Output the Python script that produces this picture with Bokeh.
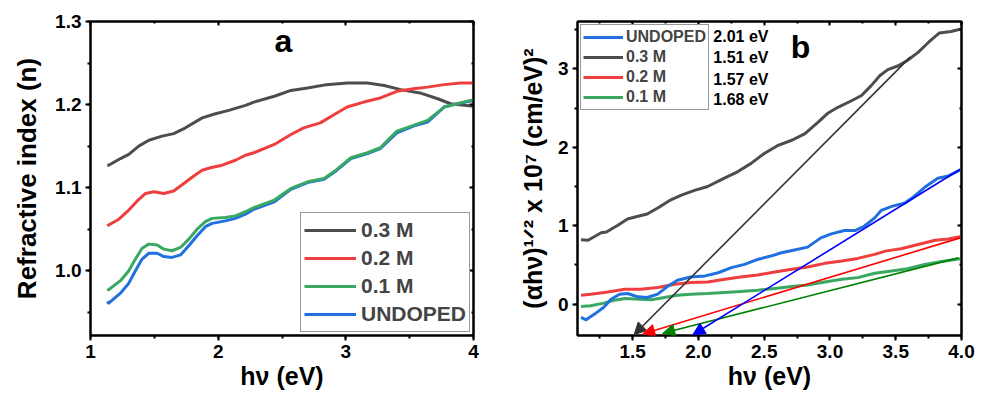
from bokeh.plotting import figure
from bokeh.layouts import row
from bokeh.models import (LinearAxis, SingleIntervalTicker, PrintfTickFormatter, CustomJSTickFormatter,
                          Legend, LegendItem, Arrow, NormalHead, Range1d)
from bokeh.core.properties import value
from bokeh.embed import file_html
from bokeh.resources import INLINE

FONT = "Liberation Sans"

# ---------------- Panel a: refractive index ----------------
a_x_03 = [1.131, 1.142, 1.235, 1.30, 1.378, 1.457, 1.561, 1.652, 1.744, 1.875, 1.979, 2.083, 2.214, 2.28, 2.44, 2.57, 2.70, 2.85, 3.01, 3.17, 3.30, 3.43, 3.58, 3.72, 3.82, 4.0]
a_y_03 = [1.127, 1.127, 1.135, 1.140, 1.150, 1.157, 1.162, 1.165, 1.172, 1.184, 1.189, 1.193, 1.199, 1.203, 1.210, 1.217, 1.220, 1.224, 1.226, 1.226, 1.223, 1.218, 1.214, 1.207, 1.201, 1.198]

a_x_02 = [1.131, 1.142, 1.222, 1.30, 1.366, 1.431, 1.496, 1.574, 1.652, 1.731, 1.809, 1.875, 1.94, 2.031, 2.135, 2.214, 2.28, 2.44, 2.57, 2.67, 2.80, 2.91, 3.01, 3.14, 3.27, 3.40, 3.53, 3.64, 3.77, 3.90, 4.0]
a_y_02 = [1.054, 1.055, 1.062, 1.073, 1.084, 1.093, 1.095, 1.093, 1.096, 1.105, 1.114, 1.121, 1.124, 1.127, 1.133, 1.139, 1.142, 1.152, 1.164, 1.172, 1.178, 1.188, 1.197, 1.203, 1.208, 1.216, 1.219, 1.221, 1.224, 1.226, 1.226]

a_x_01 = [1.131, 1.142, 1.235, 1.30, 1.352, 1.404, 1.457, 1.522, 1.574, 1.639, 1.705, 1.770, 1.835, 1.90, 1.953, 2.057, 2.135, 2.214, 2.28, 2.44, 2.57, 2.70, 2.83, 2.93, 3.04, 3.17, 3.27, 3.40, 3.53, 3.64, 3.77, 3.90, 4.0]
a_y_01 = [0.978, 0.977, 0.988, 1.000, 1.014, 1.027, 1.032, 1.031, 1.026, 1.024, 1.028, 1.038, 1.050, 1.059, 1.063, 1.064, 1.066, 1.071, 1.076, 1.085, 1.099, 1.107, 1.111, 1.122, 1.136, 1.142, 1.148, 1.168, 1.175, 1.181, 1.197, 1.202, 1.206]

a_x_un = [1.131, 1.142, 1.235, 1.30, 1.352, 1.404, 1.457, 1.522, 1.574, 1.639, 1.705, 1.770, 1.835, 1.90, 1.953, 2.057, 2.135, 2.214, 2.28, 2.44, 2.57, 2.70, 2.83, 2.93, 3.04, 3.17, 3.27, 3.40, 3.53, 3.64, 3.77, 3.90, 4.0]
a_y_un = [0.963, 0.961, 0.973, 0.985, 1.000, 1.014, 1.021, 1.021, 1.017, 1.016, 1.019, 1.030, 1.042, 1.053, 1.057, 1.060, 1.063, 1.068, 1.074, 1.083, 1.098, 1.106, 1.110, 1.121, 1.135, 1.141, 1.147, 1.166, 1.174, 1.179, 1.197, 1.202, 1.205]

# ---------------- Panel b: Tauc plot ----------------
b_x_03 = [1.107, 1.16, 1.26, 1.30, 1.39, 1.46, 1.54, 1.61, 1.69, 1.79, 1.87, 1.97, 2.07, 2.17, 2.30, 2.40, 2.50, 2.60, 2.71, 2.81, 2.91, 2.98, 3.06, 3.16, 3.24, 3.31, 3.38, 3.44, 3.52, 3.59, 3.67, 3.75, 3.83, 3.92, 3.99]
b_y_03 = [0.82, 0.815, 0.91, 0.92, 1.01, 1.086, 1.12, 1.15, 1.225, 1.33, 1.39, 1.45, 1.50, 1.585, 1.69, 1.795, 1.92, 2.02, 2.09, 2.175, 2.32, 2.43, 2.51, 2.59, 2.66, 2.78, 2.915, 2.99, 3.04, 3.11, 3.21, 3.34, 3.456, 3.477, 3.506]

b_x_un = [1.107, 1.145, 1.21, 1.28, 1.335, 1.40, 1.46, 1.54, 1.61, 1.69, 1.77, 1.84, 1.94, 2.05, 2.15, 2.25, 2.35, 2.45, 2.55, 2.63, 2.73, 2.83, 2.93, 3.01, 3.11, 3.19, 3.26, 3.34, 3.39, 3.47, 3.57, 3.64, 3.72, 3.82, 3.90, 3.99]
b_y_un = [-0.17, -0.20, -0.127, -0.04, 0.063, 0.127, 0.135, 0.093, 0.084, 0.127, 0.232, 0.304, 0.346, 0.36, 0.40, 0.465, 0.507, 0.57, 0.613, 0.655, 0.69, 0.727, 0.845, 0.896, 0.938, 0.938, 0.993, 1.10, 1.196, 1.246, 1.289, 1.373, 1.49, 1.605, 1.635, 1.71]

b_x_02 = [1.107, 1.18, 1.31, 1.44, 1.56, 1.69, 1.82, 1.94, 2.07, 2.20, 2.32, 2.45, 2.58, 2.71, 2.83, 2.96, 3.09, 3.21, 3.34, 3.42, 3.54, 3.67, 3.80, 3.90, 3.99]
b_y_02 = [0.114, 0.127, 0.156, 0.19, 0.19, 0.211, 0.253, 0.275, 0.283, 0.317, 0.346, 0.372, 0.41, 0.444, 0.473, 0.52, 0.55, 0.583, 0.634, 0.676, 0.706, 0.76, 0.815, 0.832, 0.858]

b_x_01 = [1.107, 1.18, 1.28, 1.36, 1.44, 1.56, 1.64, 1.74, 1.84, 1.94, 2.07, 2.20, 2.32, 2.45, 2.58, 2.71, 2.83, 2.96, 3.09, 3.21, 3.34, 3.47, 3.59, 3.72, 3.85, 3.99]
b_y_01 = [-0.03, -0.02, 0.013, 0.05, 0.072, 0.063, 0.055, 0.084, 0.114, 0.127, 0.135, 0.148, 0.16, 0.177, 0.2, 0.224, 0.245, 0.283, 0.317, 0.338, 0.393, 0.422, 0.452, 0.507, 0.545, 0.58]

# Linear-fit arrows (start = upper right, end = tip on the energy axis)
fit_names = ["0.3 M", "0.2 M", "0.1 M", "UNDOPED"]
fit_x_start = [3.61, 3.99, 3.975, 3.99]
fit_y_start = [3.15, 0.845, 0.59, 1.72]
fit_x_end = [1.51, 1.576, 1.728, 1.957]
fit_y_end = [-0.39, -0.38, -0.372, -0.39]
fit_colors = ["#333333", "#ff0000", "#008000", "#0000ff"]

gap_labels = ["2.01 eV", "1.51 eV", "1.57 eV", "1.68 eV"]
gap_label_x = [2.113, 2.113, 2.113, 2.113]
gap_label_y = [3.414, 3.148, 2.869, 2.615]

C_BLACK = "#4d4d4d"
C_RED = "#ee3e3e"
C_GREEN = "#3aa862"
C_BLUE = "#2070e0"


def style(p, xfmt, yfmt, xint, yint):
    p.outline_line_color = "black"
    p.outline_line_width = 2
    p.xgrid.visible = False
    p.ygrid.visible = False
    p.background_fill_color = "white"
    p.border_fill_color = "white"
    xa, ya = p.below[0], p.left[0]
    for ax, fmt, iv in ((xa, xfmt, xint), (ya, yfmt, yint)):
        ax.ticker = SingleIntervalTicker(interval=iv, num_minor_ticks=2)
        ax.formatter = PrintfTickFormatter(format=fmt)
        ax.axis_line_width = 2
        ax.axis_line_color = "black"
        ax.major_tick_line_width = 2
        ax.minor_tick_line_width = 2
        ax.major_tick_out = 5
        ax.major_tick_in = 0
        ax.minor_tick_out = 3
        ax.minor_tick_in = 0
        ax.major_label_text_font = FONT
        ax.major_label_text_font_style = "bold"
        ax.major_label_text_font_size = "19px"
        ax.major_label_text_color = "black"
        ax.axis_label_text_font = FONT
        ax.axis_label_text_font_style = "bold"
        ax.axis_label_text_color = "black"
        ax.major_label_standoff = 4
    # mirrored axes, inward ticks, no labels
    for loc, iv in (("right", yint), ("above", xint)):
        ax = LinearAxis(ticker=SingleIntervalTicker(interval=iv, num_minor_ticks=2),
                        formatter=CustomJSTickFormatter(code="return '';"))
        ax.axis_line_width = 2
        ax.major_tick_line_width = 2
        ax.minor_tick_line_width = 2
        ax.major_tick_in = 4
        ax.major_tick_out = 0
        ax.minor_tick_in = 2
        ax.minor_tick_out = 0
        ax.major_label_text_font_size = "8px"
        ax.major_label_standoff = 0
        p.add_layout(ax, loc)
    return xa, ya


# ---------- Figure a ----------
p1 = figure(width=490, height=400, output_backend="svg", toolbar_location=None,
            x_range=Range1d(1, 4), y_range=Range1d(0.922, 1.3),
            min_border_left=90, min_border_right=17, min_border_top=21, min_border_bottom=65)
xa1, ya1 = style(p1, "%.0f", "%.1f", 1, 0.1)
xa1.axis_label = "hν (eV)"
xa1.axis_label_text_font_size = "25px"
xa1.axis_label_standoff = 1
ya1.axis_label = "Refractive index (n)"
ya1.axis_label_text_font_size = "26px"
ya1.axis_label_standoff = 10

r03 = p1.line(a_x_03, a_y_03, line_color=C_BLACK, line_width=3, line_join="round")
r02 = p1.line(a_x_02, a_y_02, line_color=C_RED, line_width=3, line_join="round")
run = p1.line(a_x_un, a_y_un, line_color=C_BLUE, line_width=3, line_join="round")
r01 = p1.line(a_x_01, a_y_01, line_color=C_GREEN, line_width=3, line_join="round")

p1.text(x=[2.51], y=[1.277], text=["a"], text_font=value(FONT), text_font_style="bold",
        text_font_size="32px", text_align="center", text_baseline="middle", text_color="black")

leg1 = Legend(items=[LegendItem(label="0.3 M", renderers=[r03]),
                     LegendItem(label="0.2 M", renderers=[r02]),
                     LegendItem(label="0.1 M", renderers=[r01]),
                     LegendItem(label="UNDOPED", renderers=[run])],
              location="bottom_right")
leg1.label_text_font = FONT
leg1.label_text_font_style = "bold"
leg1.label_text_font_size = "21px"
leg1.glyph_width = 52
leg1.glyph_height = 28
leg1.label_height = 28
leg1.label_standoff = 5
leg1.spacing = 0
leg1.padding = 3
leg1.margin = 3
leg1.border_line_color = "#333333"
leg1.border_line_width = 1
p1.add_layout(leg1)

# ---------- Figure b ----------
p2 = figure(width=494, height=400, output_backend="svg", toolbar_location=None,
            x_range=Range1d(1.08, 4.0), y_range=Range1d(-0.40, 3.604),
            min_border_left=87, min_border_right=23, min_border_top=21, min_border_bottom=63)
xa2, ya2 = style(p2, "%.1f", "%.0f", 0.5, 1)
xa2.axis_label = "hν (eV)"
xa2.axis_label_text_font_size = "25px"
xa2.axis_label_standoff = 1
ya2.axis_label = "(αhν)¹ᐟ² x 10⁷ (cm/eV)²"
ya2.axis_label_text_font_size = "25px"
ya2.axis_label_standoff = 8

s03 = p2.line(b_x_03, b_y_03, line_color=C_BLACK, line_width=3, line_join="round")
s02 = p2.line(b_x_02, b_y_02, line_color=C_RED, line_width=3, line_join="round")
s01 = p2.line(b_x_01, b_y_01, line_color=C_GREEN, line_width=3, line_join="round")
sun = p2.line(b_x_un, b_y_un, line_color=C_BLUE, line_width=3, line_join="round")

for xs, ys, xe, ye, c in zip(fit_x_start, fit_y_start, fit_x_end, fit_y_end, fit_colors):
    p2.add_layout(Arrow(end=NormalHead(size=12, fill_color=c, line_color=c, line_width=1),
                        x_start=xs, y_start=ys, x_end=xe, y_end=ye,
                        line_color=c, line_width=1.6))

p2.text(x=gap_label_x, y=gap_label_y, text=gap_labels, text_font=value(FONT), text_font_style="bold",
        text_font_size="16px", text_align="left", text_baseline="middle", text_color="black")
p2.text(x=[2.775], y=[3.275], text=["b"], text_font=value(FONT), text_font_style="bold",
        text_font_size="32px", text_align="center", text_baseline="middle", text_color="black")

leg2 = Legend(items=[LegendItem(label="UNDOPED", renderers=[sun]),
                     LegendItem(label="0.3 M", renderers=[s03]),
                     LegendItem(label="0.2 M", renderers=[s02]),
                     LegendItem(label="0.1 M", renderers=[s01])],
              location="top_left")
leg2.label_text_font = FONT
leg2.label_text_font_style = "bold"
leg2.label_text_font_size = "16px"
leg2.glyph_width = 40
leg2.glyph_height = 20
leg2.label_height = 20
leg2.label_standoff = 3
leg2.spacing = 0
leg2.padding = 2
leg2.margin = 3
leg2.border_line_color = "#333333"
leg2.border_line_width = 1
p2.add_layout(leg2)

layout = row(p1, p2)
open("out.html", "w").write(file_html(layout, INLINE))
